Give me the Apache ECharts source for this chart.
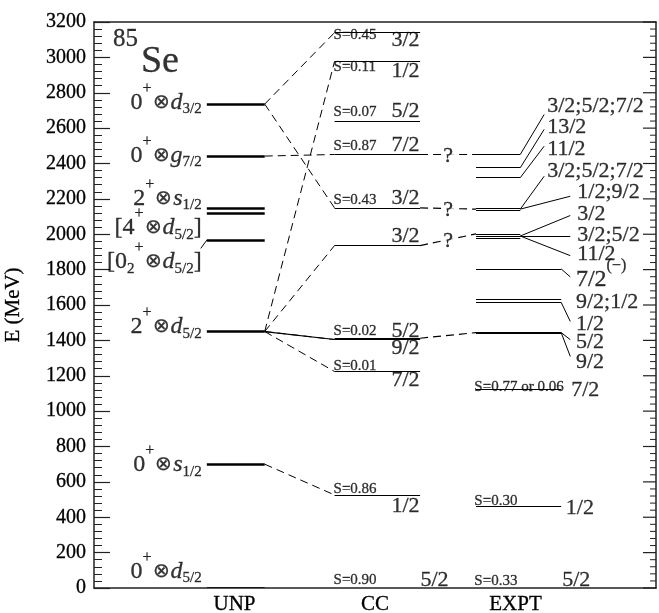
<!DOCTYPE html>
<html>
<head>
<meta charset="utf-8">
<script src="https://cdn.jsdelivr.net/npm/echarts@6/dist/echarts.min.js"></script>
<style>
  html, body { margin: 0; padding: 0; background: #fff; overflow: hidden; }
  #chart { width: 659px; height: 613px; }
</style>
</head>
<body>
<div id="chart"></div>
<script>
const FONT = '"Liberation Serif", "Times New Roman", serif'

// columns on the x axis (value axis 0..4, one unit per column)
const columns = ['', 'UNP', 'CC', 'EXPT', '']

// E axis
const E_MIN = 0
const E_MAX = 3200
const E_STEP = 200
const E_MINOR = 5

// level energies
const unpLevels = [0, 700, 1450, 1967, 2118, 2146, 2442, 2736]
const ccLevels = [0, 526, 1224, 1405, 1412, 1936, 2149, 2451, 2640, 2977, 3140]
const exptLevelsLong = [0, 460, 1121, 1440, 1447, 1615, 1634, 1804]
const exptLevelsShort = [1978, 1990, 2002, 2138, 2145, 2320, 2376, 2451]

// UNP configuration names
const unpNames = [
  '{n|0}{sup|+}{o|⊗}{it|d}{sub|5/2}',
  '{n|0}{sup|+}{o|⊗}{it|s}{sub|1/2}',
  '{n|2}{sup|+}{o|⊗}{it|d}{sub|5/2}',
  '{n|[0}{sub|2}{sup|+}{o|⊗}{it|d}{sub|5/2}{n|]}',
  '{n|[4}{sup|+}{o|⊗}{it|d}{sub|5/2}{n|]}',
  '{n|2}{sup|+}{o|⊗}{it|s}{sub|1/2}',
  '{n|0}{sup|+}{o|⊗}{it|g}{sub|7/2}',
  '{n|0}{sup|+}{o|⊗}{it|d}{sub|3/2}'
]
const unpNameE = [93, 696, 1475, 1845, 2035, 2202, 2445, 2745]

// CC spins and spectroscopic factors
const ccSpins = ['5/2', '1/2', '7/2', '9/2', '5/2', '3/2', '3/2', '7/2', '5/2', '1/2', '3/2']
const ccSpinE = [45, 464, 1175, 1353, 1449, 1987, 2202, 2502, 2694, 2921, 3096]
const ccS = ['0.90', '0.86', '0.01', '', '0.02', '', '0.43', '0.87', '0.07', '0.11', '0.45']
const ccSE = [45, 560, 1257, 0, 1451, 0, 2196, 2496, 2688, 2943, 3125]

// EXPT spins, the level each belongs to, and where the label sits
const exptSpins = ['3/2;5/2;7/2', '13/2', '11/2', '3/2;5/2;7/2', '1/2;9/2', '3/2', '3/2;5/2', '11/2',
  '{n|7/2}{sup|(−)}', '9/2;1/2', '1/2', '5/2', '9/2', '7/2', '1/2', '5/2']
const exptSpinLevel = [2451, 2376, 2320, 2142, 2142, 1990, 1990, 1990, 1804, null, 1615, 1444, 1444, null, null, null]
const exptSpinE = [2723, 2604, 2479, 2355, 2236, 2111, 1995, 1885, 1743, 1613, 1489, 1387, 1274, 1121, 453, 45]
const exptLinkEndE = [2677, 2593, 2498, 2328, 2215, 2106, 1989, 1879, 1759, null, 1507, 1404, 1309, null, null, null]
const exptS = ['0.33', '0.30', '0.77 or 0.06']
const exptSE = [40, 492, 1138]

// dashed correspondences
const unpCcLinks = [[2736, 3140], [2736, 2149], [2442, 2451], [1450, 2977], [1450, 1936], [1450, 1405], [1450, 1224], [700, 526]]
const ccExptLinks = [[2451, 2451], [2149, 2142], [1936, 2002], [1412, 1444]]
const ccExptUnsure = [true, true, true, false]

// column geometry in x units
const UNP = [0.803, 1.215]
const CC = [1.712, 2.321]
const EX_SHORT = [2.719, 3.034]
const EX_LONG = [2.719, 3.325]

const lines = []
const addLine = (x1, y1, x2, y2, width, type) => {
  lines.push({ coords: [[x1, y1], [x2, y2]], lineStyle: { width: width, type: type || 'solid' } })
}

unpLevels.forEach(e => addLine(UNP[0], e, UNP[1], e, 2.6))
ccLevels.forEach(e => addLine(CC[0], e, CC[1], e, 1.1))
exptLevelsLong.forEach(e => addLine(EX_LONG[0], e, EX_LONG[1], e, 1.1))
exptLevelsShort.forEach(e => addLine(EX_SHORT[0], e, EX_SHORT[1], e, 1.1))

unpCcLinks.forEach(([a, b]) => addLine(UNP[1], a, CC[0], b, 1, [8, 5]))
addLine(UNP[1], 1450, CC[0], 1405, 1.2)
ccExptLinks.forEach(([a, b]) => addLine(CC[1], a, EX_SHORT[0], b, 1.2, [8, 5]))
addLine(UNP[0], 1967, 0.76, 1920, 1)

exptSpinLevel.forEach((lev, i) => {
  if (lev === null) return
  const fromX = i < 8 ? EX_SHORT[1] : EX_LONG[1]
  const toX = i < 4 ? 3.204 : 3.39
  addLine(fromX, lev, toX, exptLinkEndE[i], 1)
})

const labels = []
const addLabel = (x, y, text, align, size, extra) => {
  labels.push({
    name: text,
    value: [x, y],
    label: Object.assign({ align: align, fontSize: size }, extra || {})
  })
}

labels.push({ name: '85', value: [0.135, 3102], label: { align: 'left', fontSize: 25 } })
labels.push({ name: 'Se', value: [0.334, 2972], label: { align: 'left', fontSize: 38 } })

unpNames.forEach((t, i) => addLabel(0.767, unpNameE[i], t, 'right', 24))

ccSpins.forEach((t, i) => addLabel(i === 0 ? 2.423 : 2.217, ccSpinE[i], t, 'center', 22))
ccS.forEach((s, i) => { if (s) addLabel(1.705, ccSE[i], 'S=' + s, 'left', 15) })

exptSpins.forEach((t, i) => {
  let x = 3.43
  if (i < 4) x = 3.226
  else if (i < 8) x = 3.44
  else if (i === 13) x = 3.396
  else if (i === 14) x = 3.358
  else if (i === 15) x = 3.332
  addLabel(x, exptSpinE[i], t, 'left', 22)
})
exptS.forEach((s, i) => addLabel(2.707, exptSE[i], 'S=' + s, 'left', 15))

ccExptLinks.forEach(([a, b], i) => {
  if (!ccExptUnsure[i]) return
  addLabel((CC[1] + EX_SHORT[0]) / 2, (a + b) / 2 - 10, '?', 'center', 22,
    { backgroundColor: '#fff', padding: [0, 2] })
})

const ink = { color: '#000', textBorderColor: '#000', textBorderWidth: 0.3 }
const rich = {
  n: Object.assign({ fontSize: 24, fontFamily: FONT, lineHeight: 26 }, ink),
  it: Object.assign({ fontSize: 24, fontFamily: FONT, fontStyle: 'italic', lineHeight: 26 }, ink),
  o: Object.assign({ fontSize: 20, fontFamily: FONT, lineHeight: 26, padding: [0, 1, 0, 1] }, ink),
  sup: Object.assign({ fontSize: 16, fontFamily: FONT, lineHeight: 16, padding: [0, 0, 28, 0] }, ink),
  sub: Object.assign({ fontSize: 15, fontFamily: FONT, lineHeight: 15, padding: [14, 0, 0, 0] }, ink)
}

const chart = echarts.init(document.getElementById('chart'))
chart.setOption({
  animation: false,
  backgroundColor: '#fff',
  grid: { left: 94, right: 3, top: 22, bottom: 25, containLabel: false, outerBoundsMode: 'none' },
  xAxis: [{
    type: 'value', min: 0, max: 4, interval: 1,
    axisLine: { show: true, onZero: false, lineStyle: { color: '#222', width: 1.5 } },
    axisTick: { show: false },
    splitLine: { show: false },
    axisLabel: {
      margin: 6, fontSize: 21, fontFamily: FONT, color: '#000', textBorderColor: '#000', textBorderWidth: 0.3,
      formatter: v => columns[v] || ''
    }
  }, {
    type: 'value', min: 0, max: 4, position: 'top',
    axisLine: { show: true, onZero: false, lineStyle: { color: '#222', width: 1.5 } },
    axisTick: { show: false }, axisLabel: { show: false }, splitLine: { show: false }
  }],
  yAxis: [{
    type: 'value', min: E_MIN, max: E_MAX, interval: E_STEP,
    name: 'E (MeV)', nameLocation: 'middle', nameGap: 70,
    nameTextStyle: { fontSize: 21, fontFamily: FONT, color: '#000', textBorderColor: '#000', textBorderWidth: 0.3 },
    axisLine: { show: true, onZero: false, lineStyle: { color: '#222', width: 1.5 } },
    axisTick: { show: true, inside: true, length: 16, lineStyle: { color: '#222', width: 1.2 } },
    minorTick: { show: true, splitNumber: E_MINOR, length: 8, lineStyle: { color: '#222', width: 1 } },
    splitLine: { show: false },
    axisLabel: {
      margin: 8, fontSize: 20, fontFamily: FONT, color: '#000', textBorderColor: '#000', textBorderWidth: 0.3,
      formatter: v => String(v)
    }
  }, {
    type: 'value', min: E_MIN, max: E_MAX, interval: E_STEP, position: 'right',
    axisLine: { show: true, onZero: false, lineStyle: { color: '#222', width: 1.5 } },
    axisTick: { show: false },
    splitLine: { show: false },
    axisLabel: { show: false }
  }],
  series: [{
    type: 'lines',
    coordinateSystem: 'cartesian2d',
    xAxisIndex: 0, yAxisIndex: 0,
    silent: true,
    lineStyle: { color: '#000', opacity: 1, curveness: 0 },
    data: lines
  }, {
    type: 'scatter',
    xAxisIndex: 0, yAxisIndex: 0,
    silent: true,
    symbolSize: 1,
    itemStyle: { color: 'rgba(0,0,0,0)' },
    label: Object.assign({
      show: true, position: 'inside', verticalAlign: 'middle',
      fontFamily: FONT,
      formatter: p => p.name,
      rich: rich
    }, ink),
    data: labels
  }]
})

// mirrored ticks on the right frame edge, placed through the E axis scale
const rightX = chart.convertToPixel({ xAxisIndex: 0 }, 4)
const tickMarks = []
const minorStep = E_STEP / E_MINOR
for (let k = 0; k * minorStep <= E_MAX; k++) {
  const e = E_MIN + k * minorStep
  const py = chart.convertToPixel({ yAxisIndex: 0 }, e)
  const major = k % E_MINOR === 0
  tickMarks.push({
    type: 'line',
    silent: true,
    z: 100,
    shape: { x1: rightX, y1: py, x2: rightX - (major ? 13 : 6), y2: py },
    style: { stroke: '#222', lineWidth: major ? 1.2 : 1 }
  })
}
chart.setOption({ graphic: tickMarks })
</script>
</body>
</html>
